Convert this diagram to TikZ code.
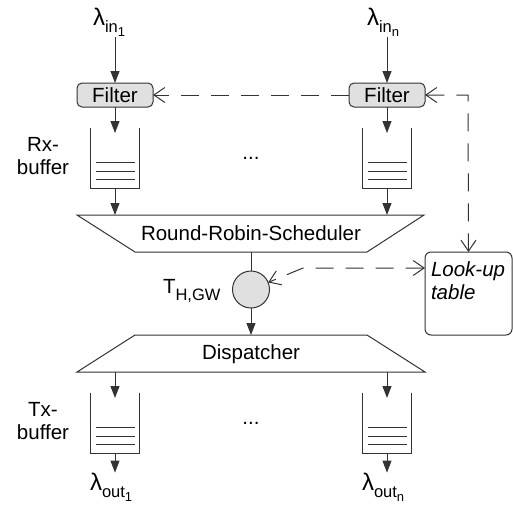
\documentclass[tikz,border=0pt]{standalone}
\usepackage{fontspec}
\setmainfont{Liberation Sans}
\usetikzlibrary{arrows.meta,calc}
\newcommand\dfont{\fontsize{20.5}{23}\selectfont}
\newcommand\lamfont{\fontsize{24}{24}\selectfont}
\newcommand\subA{\fontsize{16.5}{16.5}\selectfont}
\newcommand\subB{\fontsize{13}{13}\selectfont}
\newcommand\lamsub[2]{{\lamfont λ}\raisebox{-7.5pt}{\subA #1\raisebox{-4pt}{\subB #2}}}
\tikzset{openbarb/.tip={Straight Barb[length=11pt,width=15pt,line width=1pt]}}
\begin{document}
\begin{tikzpicture}[x=1pt,y=-1pt,line width=1pt,
  every node/.style={font=\dfont, inner sep=0pt, outer sep=0pt},
  ln/.style={draw=black!80},
  arr/.style={ln, -{Triangle[length=12pt,width=9pt]}},
  dline/.style={ln, dash pattern=on 18pt off 12pt},
  filterbox/.style={draw=black!80, fill=black!12, rounded corners=5pt, minimum width=76pt, minimum height=24pt},
  bufbox/.style={minimum width=49pt, minimum height=60pt},
  lutbox/.style={draw=black!80, rounded corners=6pt, minimum width=87pt, minimum height=83pt},
  gwcircle/.style={circle, draw=black!80, fill=black!12, minimum size=37pt}
]
\useasboundingbox (0,0) rectangle (513,506);

% inputs
\node[anchor=base west] (lin1) at (93,25) {\lamsub{in}{1}};
\node[anchor=base west] (linn) at (367,25) {\lamsub{in}{n}};

% filters
\node[filterbox] (fil1) at (115,95) {Filter};
\node[filterbox] (filn) at (387,95) {Filter};

% buffers
\node[bufbox] (rx1) at (115,158) {};
\node[bufbox] (rxn) at (387,158) {};
\node[bufbox] (tx1) at (115,423) {};
\node[bufbox] (txn) at (387,423) {};
\foreach \b in {rx1,rxn,tx1,txn}{
  \draw[ln] (\b.north west) -- (\b.south west) -- (\b.south east) -- (\b.north east);
  \foreach \o in {34,43,51}
    \draw[ln] ($(\b.north west)+(5,\o)$) -- ($(\b.north east)+(-5,\o)$);
}

% labels
\node[anchor=north, align=center] (rxlab) at (43,137) {Rx-\\buffer};
\node[anchor=north, align=center] (txlab) at (43,402) {Tx-\\buffer};
\node (dots1) at (251,158) {...};
\node (dots2) at (251,423) {...};

% scheduler
\draw[ln] (77,215) -- (424,215) -- (367,252) -- (135,252) -- cycle;
\node (sched) at (251,233.5) {Round-Robin-Scheduler};
\coordinate (schedtop) at (251,215);
\coordinate (schedbot) at (251,252);

% gateway
\node[gwcircle] (gw) at (251,289.5) {};
\node[anchor=base west] (tlab) at (163,293) {T\raisebox{-7pt}{\subA H,GW}};

% dispatcher
\draw[ln] (135,335) -- (367,335) -- (425,372) -- (77,372) -- cycle;
\node (disp) at (251,354) {Dispatcher};
\coordinate (disptop) at (251,335);
\coordinate (dispbot) at (251,372);

% look-up table
\node[lutbox] (lut) at (468.5,293.5) {};
\node[anchor=north west, align=left, font=\dfont\itshape] (luttext) at (431,262) {Look-up\\table};

% outputs
\node[anchor=base west] (lout1) at (90,490) {\lamsub{out}{1}};
\node[anchor=base west] (loutn) at (362,490) {\lamsub{out}{n}};

% solid arrows
\draw[arr] (lin1.south -| fil1.north) -- (fil1.north);
\draw[arr] (linn.south -| filn.north) -- (filn.north);
\draw[arr, shorten >=-5pt] (fil1.south) -- (rx1.north);
\draw[arr, shorten >=-5pt] (filn.south) -- (rxn.north);
\draw[arr] (rx1.south) -- (rx1.south |- schedtop);
\draw[arr] (rxn.south) -- (rxn.south |- schedtop);
\draw[ln] (schedbot) -- (gw.north);
\draw[arr] (gw.south) -- (disptop);
\draw[arr, shorten >=-5pt] (dispbot -| tx1) -- (tx1.north);
\draw[arr, shorten >=-5pt] (dispbot -| txn) -- (txn.north);
\draw[arr] (tx1.south) -- (lout1.north -| tx1.south);
\draw[arr] (txn.south) -- (loutn.north -| txn.south);

% dashed control lines
\coordinate (corner) at (468,95);
\coordinate (bend) at (303,268);
\draw[dline, -{openbarb}] (filn.west) -- (fil1.east);
\draw[dline, {openbarb}-{openbarb}] (filn.east) -- (corner) -- (lut.north);
\draw[dline, {openbarb}-{openbarb}] (lut.west |- bend) -- (bend) -- (gw);
\end{tikzpicture}
\end{document}
